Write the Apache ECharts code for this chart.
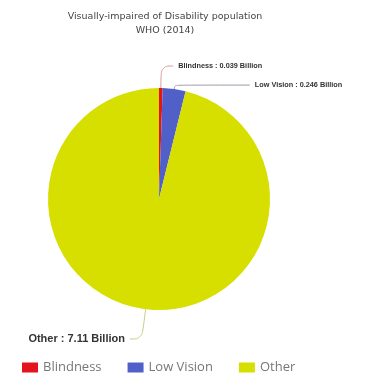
<!DOCTYPE html>
<html>
<head>
<meta charset="utf-8">
<script src="https://cdn.jsdelivr.net/npm/echarts@6/dist/echarts.min.js"></script>
<style>
html,body{margin:0;padding:0;background:#fff;}
#chart{width:391px;height:377px;}
</style>
</head>
<body>
<div id="chart"></div>
<script>
var categories = ['Blindness', 'Low Vision', 'Other'];
var values = [0.039, 0.246, 7.11];
var unit = 'Billion';
var titleLines = ['Visually-impaired of Disability population', 'WHO (2014)'];

var colors = ['#e3141c', '#5060c8', '#d6df00'];
var lineColors = ['#d99a9a', '#9a9aa6', '#c9c98a'];
var lineLens = [[22, 12], [4, 75], [30, 12]];
var labelSizes = [7.3, 7.3, 11];

var chart = echarts.init(document.getElementById('chart'));
var data = categories.map(function (c, i) {
  return {
    name: c,
    value: values[i],
    itemStyle: { color: colors[i] },
    label: { fontSize: labelSizes[i] },
    labelLine: { length: lineLens[i][0], length2: lineLens[i][1], smooth: 0.4, lineStyle: { color: lineColors[i], width: 1 } }
  };
});
chart.setOption({
  animation: false,
  title: {
    text: titleLines.join('\n'),
    left: 160,
    textAlign: 'center',
    top: 5,
    textStyle: { fontSize: 9.5, fontWeight: 'normal', color: '#444', lineHeight: 14, fontFamily: 'DejaVu Sans' }
  },
  legend: {
    data: categories,
    left: 17,
    top: 356,
    icon: 'rect',
    itemWidth: 16,
    itemHeight: 10,
    itemGap: 26,
    textStyle: { fontSize: 13, color: '#777', fontFamily: 'Open Sans' }
  },
  series: [{
    type: 'pie',
    center: [159, 199],
    radius: [0, 111],
    startAngle: 90,
    avoidLabelOverlap: false,
    label: {
      show: true,
      formatter: function (p) { return p.name + ' : ' + p.value + ' ' + unit; },
      fontWeight: 'bold',
      color: '#333',
      fontFamily: 'Liberation Sans'
    },
    labelLine: { show: true },
    data: data
  }]
});
</script>
</body>
</html>
